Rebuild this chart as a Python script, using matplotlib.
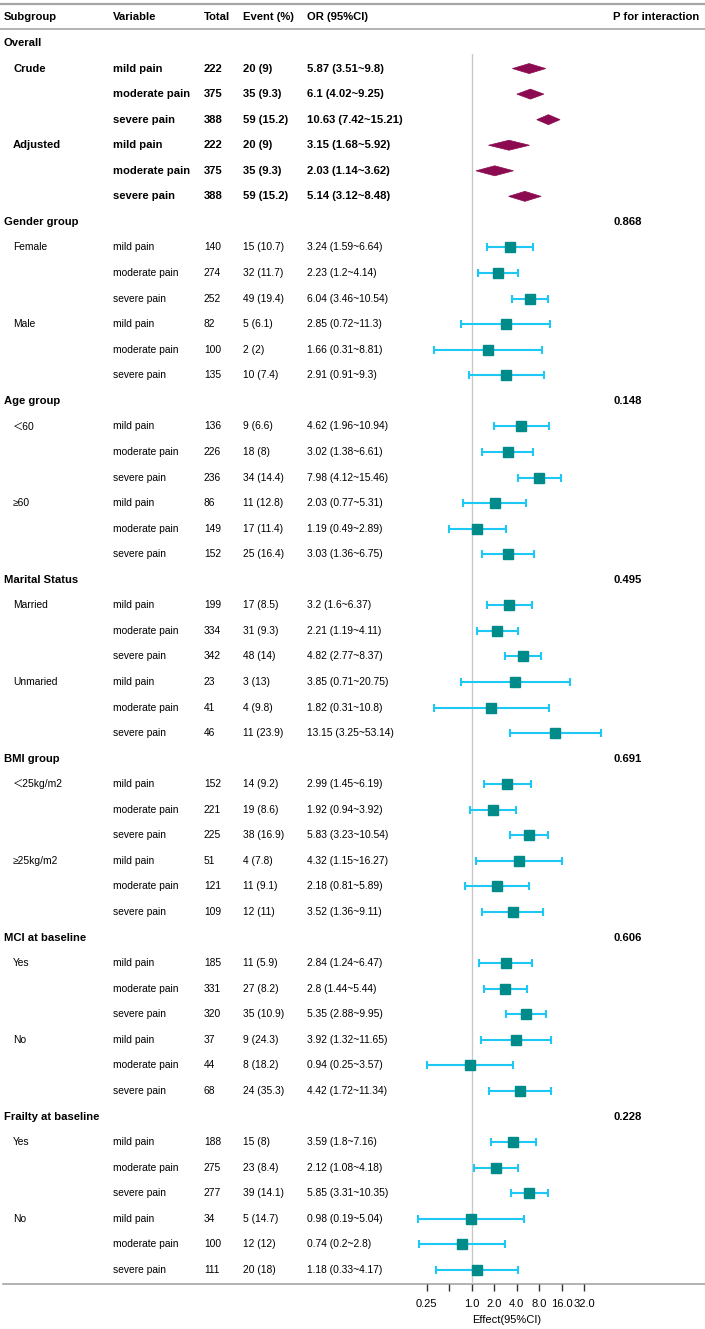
import matplotlib
matplotlib.use("Agg")
import matplotlib.pyplot as plt
from matplotlib.patches import Polygon
import numpy as np

plt.rcParams['font.family'] = ['Liberation Sans', 'Noto Sans CJK SC', 'DejaVu Sans']

# ---------------- data ----------------
subgroups = ["Overall", "Gender group", "Age group", "Marital Status",
             "BMI group", "MCI at baseline", "Frailty at baseline"]
p_interaction = ["", "0.868", "0.148", "0.495", "0.691", "0.606", "0.228"]
levels = [["Crude", "Adjusted"], ["Female", "Male"], ["＜60", "≥60"],
          ["Married", "Unmaried"], ["＜25kg/m2", "≥25kg/m2"],
          ["Yes", "No"], ["Yes", "No"]]
variables = ["mild pain", "moderate pain", "severe pain"]

totals = [222, 375, 388, 222, 375, 388,
          140, 274, 252, 82, 100, 135,
          136, 226, 236, 86, 149, 152,
          199, 334, 342, 23, 41, 46,
          152, 221, 225, 51, 121, 109,
          185, 331, 320, 37, 44, 68,
          188, 275, 277, 34, 100, 111]
events = ["20 (9)", "35 (9.3)", "59 (15.2)", "20 (9)", "35 (9.3)", "59 (15.2)",
          "15 (10.7)", "32 (11.7)", "49 (19.4)", "5 (6.1)", "2 (2)", "10 (7.4)",
          "9 (6.6)", "18 (8)", "34 (14.4)", "11 (12.8)", "17 (11.4)", "25 (16.4)",
          "17 (8.5)", "31 (9.3)", "48 (14)", "3 (13)", "4 (9.8)", "11 (23.9)",
          "14 (9.2)", "19 (8.6)", "38 (16.9)", "4 (7.8)", "11 (9.1)", "12 (11)",
          "11 (5.9)", "27 (8.2)", "35 (10.9)", "9 (24.3)", "8 (18.2)", "24 (35.3)",
          "15 (8)", "23 (8.4)", "39 (14.1)", "5 (14.7)", "12 (12)", "20 (18)"]
or_vals = [5.87, 6.1, 10.63, 3.15, 2.03, 5.14,
           3.24, 2.23, 6.04, 2.85, 1.66, 2.91,
           4.62, 3.02, 7.98, 2.03, 1.19, 3.03,
           3.2, 2.21, 4.82, 3.85, 1.82, 13.15,
           2.99, 1.92, 5.83, 4.32, 2.18, 3.52,
           2.84, 2.8, 5.35, 3.92, 0.94, 4.42,
           3.59, 2.12, 5.85, 0.98, 0.74, 1.18]
ci_lo = [3.51, 4.02, 7.42, 1.68, 1.14, 3.12,
         1.59, 1.2, 3.46, 0.72, 0.31, 0.91,
         1.96, 1.38, 4.12, 0.77, 0.49, 1.36,
         1.6, 1.19, 2.77, 0.71, 0.31, 3.25,
         1.45, 0.94, 3.23, 1.15, 0.81, 1.36,
         1.24, 1.44, 2.88, 1.32, 0.25, 1.72,
         1.8, 1.08, 3.31, 0.19, 0.2, 0.33]
ci_hi = [9.8, 9.25, 15.21, 5.92, 3.62, 8.48,
         6.64, 4.14, 10.54, 11.3, 8.81, 9.3,
         10.94, 6.61, 15.46, 5.31, 2.89, 6.75,
         6.37, 4.11, 8.37, 20.75, 10.8, 53.14,
         6.19, 3.92, 10.54, 16.27, 5.89, 9.11,
         6.47, 5.44, 9.95, 11.65, 3.57, 11.34,
         7.16, 4.18, 10.35, 5.04, 2.8, 4.17]
ticks = [0.25, 0.5, 1, 2, 4, 8, 16, 32]
tick_labels = ["0.25", "", "1.0", "2.0", "4.0", "8.0", "16.0", "32.0"]

# ---------------- layout ----------------
W, H = 705, 1329
ROW0, ROWH = 43, 25.56
X_ONE, PX_PER_LOG2 = 471.7, 22.5
FOREST_L, FOREST_R, FOREST_T, FOREST_B = 380, 705, 54, 1284
COL_SUB, COL_LEVEL, COL_VAR, COL_TOT, COL_EV, COL_OR, COL_P = 4, 13, 113, 204, 243, 307, 613

BOLD_FS, REG_FS, AX_FS = 8.1, 7.4, 8.0
LINE_C = "#a6a6a6"
SQ_C, ERR_C, DIA_C = "#008b8b", "#1ec8f5", "#8b0a50"

fig = plt.figure(figsize=(W / 100, H / 100), dpi=100)
ax_t = fig.add_axes([0, 0, 1, 1])
ax_t.set_xlim(0, W)
ax_t.set_ylim(H, 0)
ax_t.axis("off")

ax_f = fig.add_axes([FOREST_L / W, (H - FOREST_B) / H,
                     (FOREST_R - FOREST_L) / W, (FOREST_B - FOREST_T) / H])
ax_f.patch.set_alpha(0)
ax_f.set_xscale("log", base=2)
ax_f.set_xlim(2 ** ((FOREST_L - X_ONE) / PX_PER_LOG2), 2 ** ((FOREST_R - X_ONE) / PX_PER_LOG2))
ax_f.set_ylim(FOREST_B, FOREST_T)
for s in ax_f.spines.values():
    s.set_visible(False)
ax_f.set_yticks([])
ax_f.set_xticks(ticks)
ax_f.set_xticklabels(tick_labels)
ax_f.xaxis.set_minor_locator(matplotlib.ticker.NullLocator())
ax_f.tick_params(axis="x", length=5, width=1.0, color="#333333", pad=6,
                 labelsize=AX_FS)
ax_f.axvline(1, color="#c8c8c8", lw=1.0, zorder=0)

# header
hy = 17
for x, t in [(COL_SUB, "Subgroup"), (COL_VAR, "Variable"), (COL_TOT, "Total"),
             (COL_EV, "Event (%)"), (COL_OR, "OR (95%CI)"), (COL_P, "P for interaction")]:
    ax_t.text(x, hy, t, ha="left", va="center", fontsize=BOLD_FS, fontweight="bold")
ax_t.plot([0, W], [4, 4], color=LINE_C, lw=1.6)
ax_t.plot([0, W], [29, 29], color=LINE_C, lw=1.2)
ax_t.plot([3, W], [FOREST_B, FOREST_B], color=LINE_C, lw=1.2)
ax_t.text(507, 1320, "Effect(95%CI)", ha="center", va="center", fontsize=AX_FS)

row = 0
k = 0
for g, name in enumerate(subgroups):
    y = ROW0 + ROWH * row
    ax_t.text(COL_SUB, y, name, ha="left", va="center", fontsize=BOLD_FS, fontweight="bold")
    if p_interaction[g]:
        ax_t.text(COL_P, y, p_interaction[g], ha="left", va="center",
                  fontsize=BOLD_FS, fontweight="bold")
    row += 1
    overall = (g == 0)
    fw = "bold" if overall else "normal"
    fs = BOLD_FS if overall else REG_FS
    for lv in levels[g]:
        for j, var in enumerate(variables):
            y = ROW0 + ROWH * row
            if j == 0:
                ax_t.text(COL_LEVEL, y, lv, ha="left", va="center", fontsize=fs, fontweight=fw)
            ax_t.text(COL_VAR, y, var, ha="left", va="center", fontsize=fs, fontweight=fw)
            ax_t.text(COL_TOT, y, str(totals[k]), ha="left", va="center", fontsize=fs, fontweight=fw)
            ax_t.text(COL_EV, y, events[k], ha="left", va="center", fontsize=fs, fontweight=fw)
            ax_t.text(COL_OR, y, f"{or_vals[k]} ({ci_lo[k]}~{ci_hi[k]})", ha="left",
                      va="center", fontsize=fs, fontweight=fw)
            if overall:
                hh = 5.0
                poly = Polygon([(ci_lo[k], y), (or_vals[k], y - hh), (ci_hi[k], y),
                                (or_vals[k], y + hh)], closed=True, facecolor=DIA_C,
                               edgecolor=DIA_C, lw=0.5, zorder=3)
                ax_f.add_patch(poly)
            else:
                ax_f.errorbar([or_vals[k]], [y],
                              xerr=[[or_vals[k] - ci_lo[k]], [ci_hi[k] - or_vals[k]]],
                              fmt="s", color=SQ_C, markersize=7.2, ecolor=ERR_C,
                              elinewidth=1.5, capsize=2.6, capthick=1.5, zorder=3)
            row += 1
            k += 1

fig.savefig("out.png", dpi=100)
